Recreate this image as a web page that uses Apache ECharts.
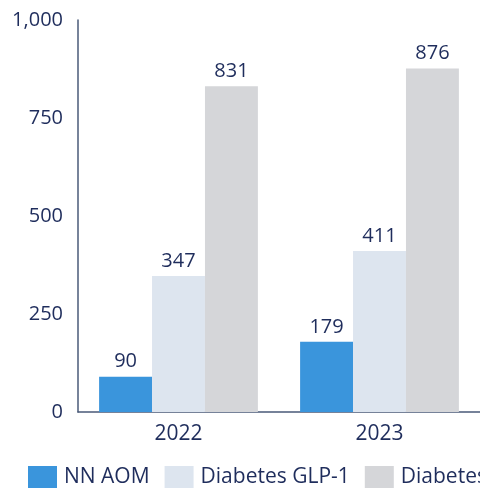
<!DOCTYPE html>
<html><head><meta charset="utf-8">
<script src="https://cdn.jsdelivr.net/npm/echarts@6/dist/echarts.min.js"></script>
<style>html,body{margin:0;padding:0;background:#fff}#c{width:480px;height:488px}</style>
</head><body><div id="c"></div>
<script>
const categories = ['2022', '2023'];
const nnAom = [90, 179];
const diabetesGlp1 = [347, 411];
const diabetes = [831, 876];
const yTicks = [0, 250, 500, 750, 1000];

const textColor = '#1f2d5c';
const font = '"Open Sans", "Noto Sans", sans-serif';
const fs = 20;
const chart = echarts.init(document.getElementById('c'));
const lbl = {show: true, position: 'top', color: textColor, fontSize: fs, fontFamily: font, distance: 5};
chart.setOption({
  animation: false,
  textStyle: {fontFamily: font},
  grid: {left: 78, right: -2, top: 20, bottom: 76, containLabel: false},
  legend: {
    left: 28, top: 466, width: 800, padding: 0, itemWidth: 29, itemHeight: 22, itemGap: 15,
    icon: 'rect',
    textStyle: {color: textColor, fontSize: 21, fontFamily: font, padding: [0, 0, 0, 2]},
    data: ['NN AOM', 'Diabetes GLP-1', 'Diabetes']
  },
  xAxis: {
    type: 'category', data: categories,
    axisLine: {lineStyle: {color: '#4a5a78', width: 1.5}},
    axisTick: {show: false},
    axisLabel: {color: textColor, fontSize: 21, fontFamily: font, margin: 12}
  },
  yAxis: {
    type: 'value', min: yTicks[0], max: yTicks[yTicks.length - 1], interval: 250,
    axisLine: {show: true, lineStyle: {color: '#4a5a78', width: 1.5}},
    axisTick: {show: false},
    splitLine: {show: false},
    axisLabel: {color: textColor, fontSize: fs, fontFamily: font, margin: 15,
      formatter: v => v.toLocaleString('en-US')}
  },
  series: [
    {name: 'NN AOM', type: 'bar', data: nnAom, barGap: '0%', barCategoryGap: '21%',
     itemStyle: {color: '#3a95dc'}, label: lbl},
    {name: 'Diabetes GLP-1', type: 'bar', data: diabetesGlp1,
     itemStyle: {color: '#dde5ef'}, label: lbl},
    {name: 'Diabetes', type: 'bar', data: diabetes,
     itemStyle: {color: '#d5d6d9'}, label: lbl}
  ]
});
</script></body></html>
